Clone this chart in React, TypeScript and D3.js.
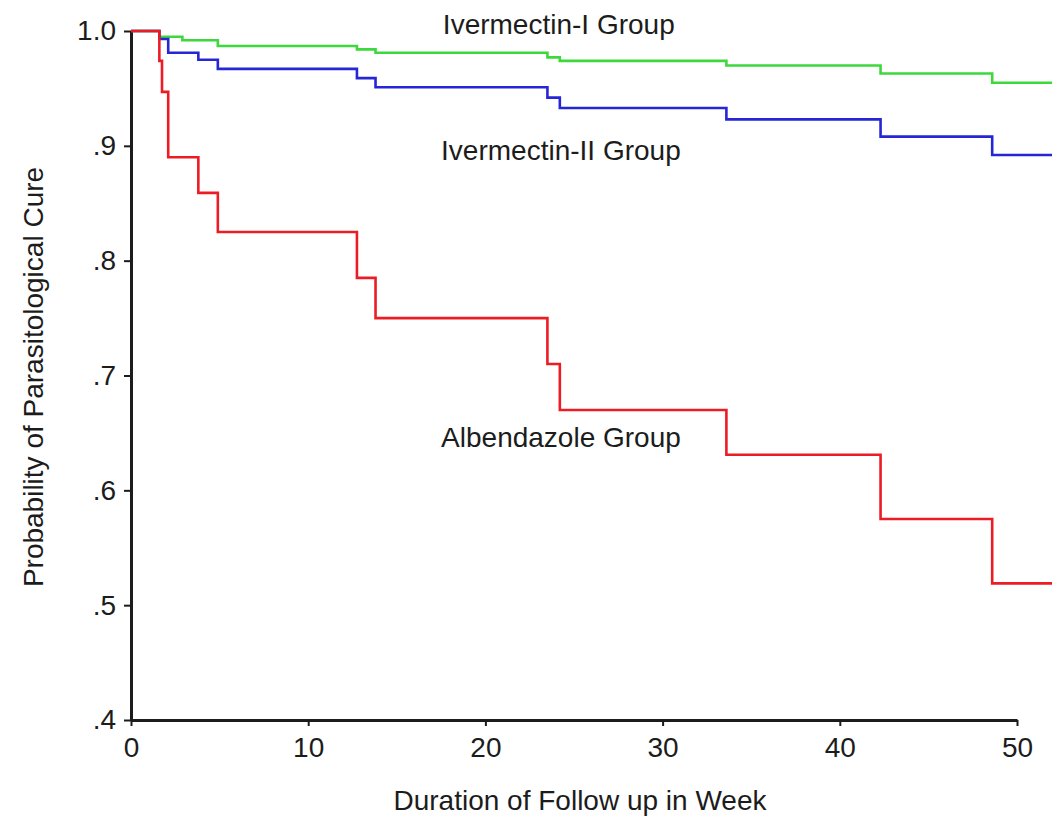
import React, { useEffect, useRef } from 'react';
import * as d3 from 'd3';

// weeks of follow-up at which the step curves change
const albendazoleWeeks = [0, 1.6, 1.75, 2.1, 3.8, 4.9, 12.75, 13.8, 23.5, 24.2, 33.6, 42.3, 48.6, 52];
const albendazoleCure = [1, 0.974, 0.947, 0.89, 0.859, 0.825, 0.785, 0.75, 0.71, 0.67, 0.631, 0.575, 0.519, 0.519];

const ivermectin2Weeks = [0, 1.6, 2.1, 3.8, 4.9, 12.75, 13.8, 23.5, 24.2, 33.6, 42.3, 48.6, 52];
const ivermectin2Cure = [1, 0.993, 0.981, 0.975, 0.967, 0.959, 0.951, 0.942, 0.933, 0.923, 0.908, 0.892, 0.892];

const ivermectin1Weeks = [0, 1.6, 2.9, 4.9, 12.75, 13.8, 23.5, 24.2, 33.6, 42.3, 48.6, 52];
const ivermectin1Cure = [1, 0.995, 0.992, 0.987, 0.984, 0.981, 0.977, 0.974, 0.97, 0.963, 0.955, 0.955];

const xTicks = [0, 10, 20, 30, 40, 50];
const yTicks = [0.4, 0.5, 0.6, 0.7, 0.8, 0.9, 1.0];
const yTickLabels = ['.4', '.5', '.6', '.7', '.8', '.9', '1.0'];

const FONT = '"Liberation Sans", Arial, Helvetica, sans-serif';
const INK = '#1c1c1c';

const App = () => {
  const svgRef = useRef<SVGSVGElement>(null);

  useEffect(() => {
    const width = 1052;
    const height = 840;

    const svg = d3.select(svgRef.current)
      .attr('width', width)
      .attr('height', height);
    svg.selectAll('*').remove();

    const x = d3.scaleLinear().domain([0, 50]).range([131, 1017]);
    const y = d3.scaleLinear().domain([0.4, 1.0]).range([720, 31]);

    // x axis
    const xAxis = svg.append('g')
      .attr('transform', `translate(0,${y(0.4)})`)
      .call(d3.axisBottom(x).tickValues(xTicks).tickSize(6).tickSizeOuter(0).tickPadding(11).tickFormat(d => String(d)));

    // y axis
    const yAxis = svg.append('g')
      .attr('transform', `translate(${x(0)},0)`)
      .call(d3.axisLeft(y).tickValues(yTicks).tickSize(7).tickSizeOuter(0).tickPadding(8)
        .tickFormat((d, i) => yTickLabels[i]));

    [xAxis, yAxis].forEach(ax => {
      ax.select('.domain').attr('stroke', INK).attr('stroke-width', 3);
      ax.selectAll('.tick line').attr('stroke', INK).attr('stroke-width', 2);
      ax.selectAll('.tick text')
        .attr('fill', INK)
        .style('font-family', FONT)
        .style('font-size', '28px');
    });

    const line = d3.line<[number, number]>()
      .x(d => x(d[0]))
      .y(d => y(d[1]))
      .curve(d3.curveStepAfter);

    const series = [
      { weeks: ivermectin1Weeks, cure: ivermectin1Cure, color: '#3cd83c' },
      { weeks: ivermectin2Weeks, cure: ivermectin2Cure, color: '#2626d6' },
      { weeks: albendazoleWeeks, cure: albendazoleCure, color: '#ec1c24' },
    ];

    series.forEach(s => {
      svg.append('path')
        .datum(s.weeks.map((w, i) => [w, s.cure[i]] as [number, number]))
        .attr('d', line)
        .attr('fill', 'none')
        .attr('stroke', s.color)
        .attr('stroke-width', 2.6);
    });

    // curve labels
    const labels = [
      { text: 'Ivermectin-I Group', week: 17.6, value: y.invert(34) },
      { text: 'Ivermectin-II Group', week: 17.5, value: y.invert(160) },
      { text: 'Albendazole Group', week: 17.5, value: y.invert(447) },
    ];
    svg.selectAll('.curve-label')
      .data(labels)
      .enter().append('text')
      .attr('class', 'curve-label')
      .attr('x', d => x(d.week))
      .attr('y', d => y(d.value))
      .attr('fill', INK)
      .style('font-family', FONT)
      .style('font-size', '28px')
      .text(d => d.text);

    // axis titles
    svg.append('text')
      .attr('x', 580)
      .attr('y', 810)
      .attr('text-anchor', 'middle')
      .attr('fill', INK)
      .style('font-family', FONT)
      .style('font-size', '28px')
      .text('Duration of Follow up in Week');

    svg.append('text')
      .attr('transform', 'translate(43,377) rotate(-90)')
      .attr('text-anchor', 'middle')
      .attr('fill', INK)
      .style('font-family', FONT)
      .style('font-size', '28px')
      .text('Probability of Parasitological Cure');
  }, []);

  return (
    <svg
      ref={svgRef}
      style={{ position: 'absolute', left: 0, top: 0, display: 'block', background: '#fff' }}
    ></svg>
  );
};

export default App;
